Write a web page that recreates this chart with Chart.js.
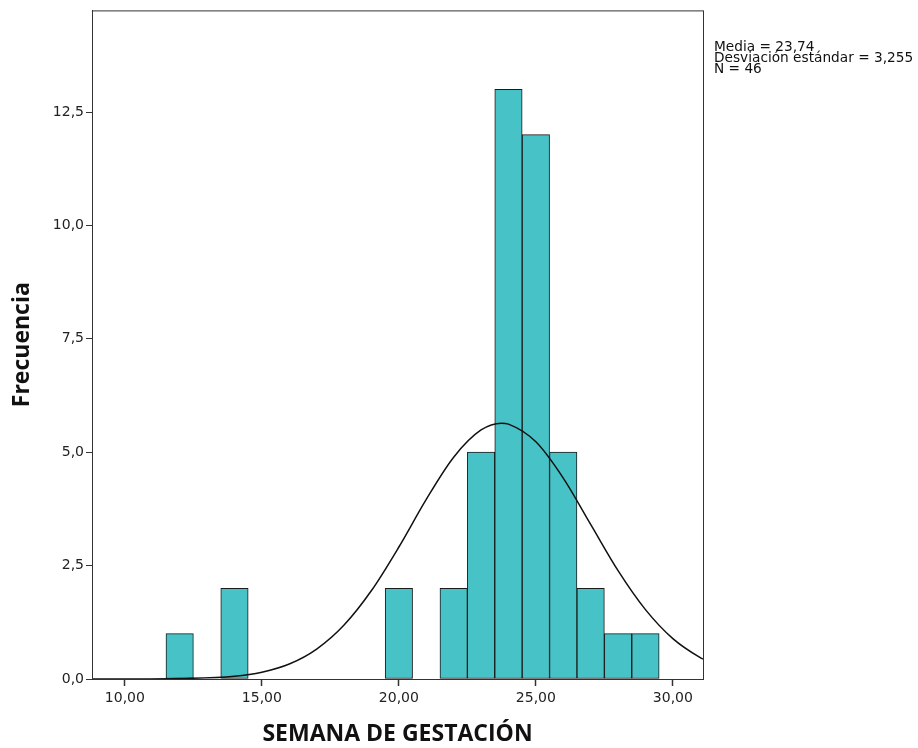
<!DOCTYPE html>
<html>
<head>
<meta charset="utf-8">
<script src="https://cdn.jsdelivr.net/npm/chart.js@4.4.1/dist/chart.umd.min.js"></script>
<style>
  html, body { margin: 0; padding: 0; background: #fff; }
  #wrap { width: 918px; height: 748px; position: relative; }
</style>
</head>
<body>
<div id="wrap"><canvas id="histChart" width="918" height="748"></canvas></div>
<script>
// Histogram bins (centre of each 1-week bin) and counts
const binCenters = [12, 14, 20, 22, 23, 24, 25, 26, 27, 28, 29];
const binCounts  = [1, 2, 2, 2, 5, 13, 12, 5, 2, 1, 1];

// Normal curve
const curveX = [8.8, 10, 12, 14, 15, 16, 17, 18, 19, 20, 21, 22, 23, 23.74, 24, 25, 26, 27, 28, 29, 30, 31, 31.1];
const curveY = [0.0, 0.0, 0.01, 0.06, 0.15, 0.33, 0.66, 1.19, 1.95, 2.91, 3.96, 4.89, 5.49, 5.64, 5.62, 5.23, 4.43, 3.41, 2.39, 1.53, 0.89, 0.47, 0.44];

// Axis ticks
const xTicks = [10, 15, 20, 25, 30];
const yTicks = [0, 2.5, 5, 7.5, 10, 12.5];

const statsLines = ['Media = 23,74', 'Desviación estándar = 3,255', 'N = 46'];

const FONT = '"DejaVu Sans", "Open Sans", sans-serif';
const TITLE_FONT = '"Open Sans", "DejaVu Sans", sans-serif';

document.addEventListener('DOMContentLoaded', function() {
    const ctx = document.getElementById('histChart').getContext('2d');

    // frame around plot area + stats text
    const framePlugin = {
        id: 'frame',
        afterDraw(chart) {
            const a = chart.chartArea;
            const c = chart.ctx;
            c.save();
            c.strokeStyle = '#333';
            c.lineWidth = 1;
            c.strokeRect(a.left + 0.5, a.top + 0.5, a.right - a.left, a.bottom - a.top);
            c.fillStyle = '#111';
            c.font = '13.7px ' + FONT;
            c.textBaseline = 'alphabetic';
            statsLines.forEach(function(t, i) {
                c.fillText(t, 714, 51 + i * 11);
            });
            c.restore();
        }
    };

    new Chart(ctx, {
        data: {
            datasets: [{
                type: 'line',
                data: curveX.map((x, i) => ({ x: x, y: curveY[i] })),
                borderColor: '#111',
                borderWidth: 1.5,
                pointRadius: 0,
                cubicInterpolationMode: 'monotone',
                fill: false,
                order: 0
            }, {
                type: 'bar',
                data: binCenters.map((x, i) => ({ x: x, y: binCounts[i] })),
                backgroundColor: '#47C3C7',
                borderColor: '#1a1a1a',
                borderWidth: 1,
                borderSkipped: false,
                barPercentage: 1.0,
                categoryPercentage: 1.0,
                grouped: false,
                order: 1
            }]
        },
        options: {
            responsive: false,
            animation: false,
            layout: { padding: { top: 8, right: 215, left: 0, bottom: 0 } },
            plugins: {
                legend: { display: false },
                tooltip: { enabled: false }
            },
            scales: {
                x: {
                    type: 'linear',
                    min: 8.8,
                    max: 31.1,
                    offset: false,
                    afterFit: function(scale) { scale.height = 69; },
                    afterBuildTicks: function(scale) {
                        scale.ticks = xTicks.map(v => ({ value: v }));
                    },
                    ticks: {
                        color: '#222',
                        font: { family: FONT, size: 14 },
                        padding: 4,
                        maxRotation: 0,
                        callback: v => v.toFixed(2).replace('.', ',')
                    },
                    grid: { offset: false, drawOnChartArea: false, drawTicks: true, tickLength: 7, tickWidth: 1.5, color: '#333' },
                    border: { display: true, color: '#333' },
                    title: {
                        display: true,
                        text: 'SEMANA DE GESTACIÓN',
                        color: '#111',
                        font: { family: TITLE_FONT, size: 23, weight: 'bold' },
                        padding: { top: 7, bottom: 0 }
                    }
                },
                y: {
                    type: 'linear',
                    min: 0,
                    max: 14.74,
                    afterFit: function(scale) { scale.width = 92; },
                    afterBuildTicks: function(scale) {
                        scale.ticks = yTicks.map(v => ({ value: v }));
                    },
                    ticks: {
                        color: '#222',
                        font: { family: FONT, size: 14 },
                        padding: 2,
                        callback: v => v.toFixed(1).replace('.', ',')
                    },
                    grid: { drawOnChartArea: false, drawTicks: true, tickLength: 6, color: '#333' },
                    border: { display: true, color: '#333' },
                    title: {
                        display: true,
                        text: 'Frecuencia',
                        color: '#111',
                        font: { family: TITLE_FONT, size: 23, weight: 'bold' },
                        padding: { top: 9, bottom: 0 }
                    }
                }
            }
        },
        plugins: [framePlugin]
    });
});
</script>
</body>
</html>
